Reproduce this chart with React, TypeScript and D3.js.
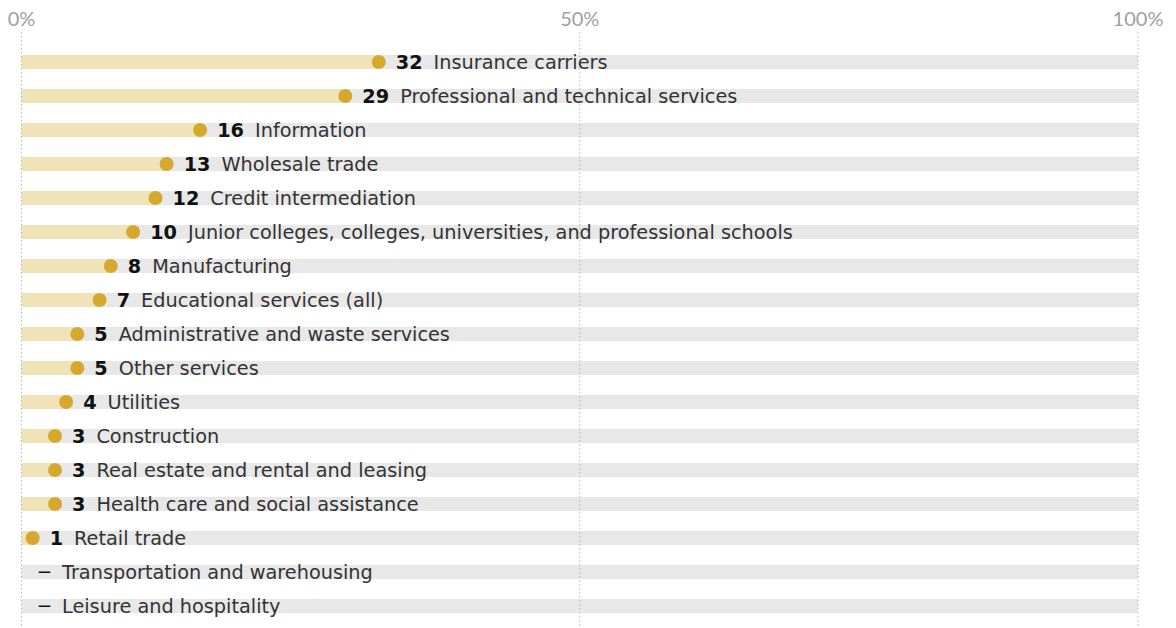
import React from "react";
import * as d3 from "d3";

const categories = [
  "Insurance carriers",
  "Professional and technical services",
  "Information",
  "Wholesale trade",
  "Credit intermediation",
  "Junior colleges, colleges, universities, and professional schools",
  "Manufacturing",
  "Educational services (all)",
  "Administrative and waste services",
  "Other services",
  "Utilities",
  "Construction",
  "Real estate and rental and leasing",
  "Health care and social assistance",
  "Retail trade",
  "Transportation and warehousing",
  "Leisure and hospitality",
];

const values: (number | null)[] = [32, 29, 16, 13, 12, 10, 8, 7, 5, 5, 4, 3, 3, 3, 1, null, null];

const ticks = [0, 50, 100];

const W = 1176;
const H = 628;
const FONT = "'DejaVu Sans', sans-serif";
const TICK_FONT = "Lato, 'Liberation Sans', sans-serif";

const App: React.FC = () => {
  const x = d3.scaleLinear().domain([0, 100]).range([21.5, 1138]);
  const y = d3
    .scaleBand<string>()
    .domain(categories)
    .range([45, 623])
    .paddingInner(0)
    .paddingOuter(0);
  const barH = 14;

  return (
    <svg
      width={W}
      height={H}
      style={{ position: "absolute", left: 0, top: 0, background: "#fff" }}
    >
      {categories.map((c) => {
        const cy = y(c)! + y.bandwidth() / 2;
        return (
          <rect
            key={"bg" + c}
            x={x(0)}
            y={cy - barH / 2}
            width={x(100) - x(0)}
            height={barH}
            fill="#e8e8e8"
          />
        );
      })}
      {categories.map((c, i) => {
        const v = values[i];
        if (v == null) return null;
        const cy = y(c)! + y.bandwidth() / 2;
        return (
          <rect
            key={"fg" + c}
            x={x(0)}
            y={cy - barH / 2}
            width={x(v) - x(0)}
            height={barH}
            fill="#f0e3b8"
          />
        );
      })}
      {ticks.map((t) => (
        <g key={"t" + t}>
          <line
            x1={x(t)}
            x2={x(t)}
            y1={32}
            y2={628}
            stroke="#b5b5b5"
            strokeWidth={1}
            strokeDasharray="1.5,2.5"
          />
          <text
            x={x(t)}
            y={26}
            textAnchor="middle"
            fill="#a0a0a0"
            fontFamily={TICK_FONT}
            fontSize={20}
          >
            {t}%
          </text>
        </g>
      ))}
      {categories.map((c, i) => {
        const v = values[i];
        const cy = y(c)! + y.bandwidth() / 2;
        if (v == null) {
          return (
            <text
              key={"l" + c}
              x={x(0) + 16.5}
              y={cy + 7}
              fontFamily={FONT}
              fontSize={19.3}
              fill="#333"
            >
              <tspan fontWeight="bold" fill="#111" fontSize={13} dy={-3}>
                —
              </tspan>
              <tspan dx={11} dy={3}>
                {c}
              </tspan>
            </text>
          );
        }
        return (
          <g key={"l" + c}>
            <circle cx={x(v)} cy={cy} r={7} fill="#d6a82e" />
            <text
              x={x(v) + 17}
              y={cy}
              dy="0.36em"
              fontFamily={FONT}
              fontSize={19.3}
              fill="#333"
            >
              <tspan fontWeight="bold" fill="#111">
                {v}
              </tspan>
              <tspan dx={11}>{c}</tspan>
            </text>
          </g>
        );
      })}
    </svg>
  );
};

export default App;
